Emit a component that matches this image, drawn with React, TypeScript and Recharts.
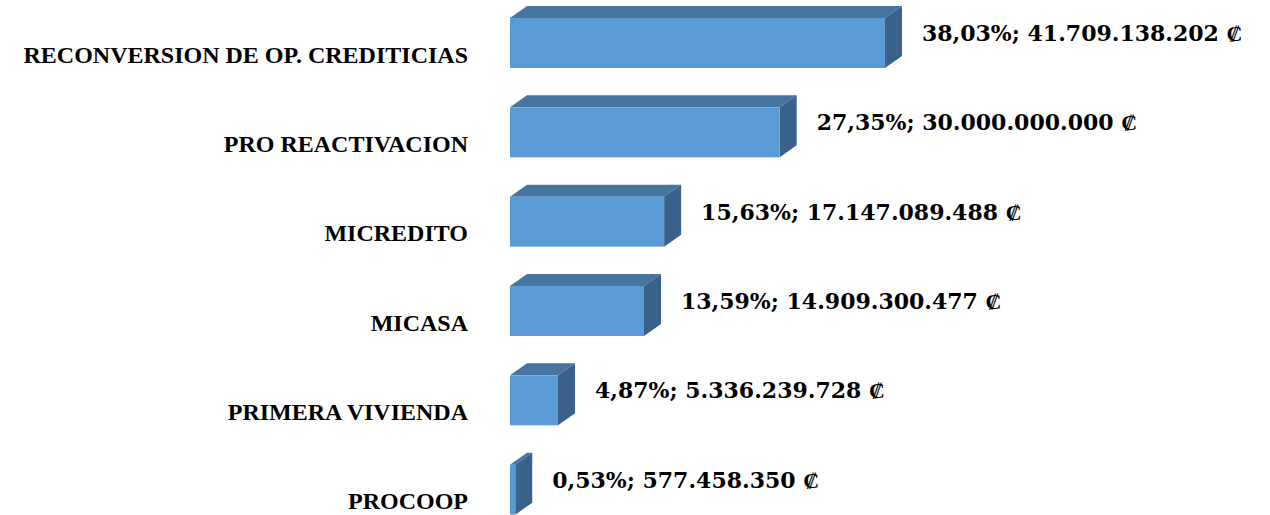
import React from 'react';
import { BarChart, Bar, XAxis, YAxis, LabelList } from 'recharts';

const categories = [
    'RECONVERSION DE OP. CREDITICIAS',
    'PRO REACTIVACION',
    'MICREDITO',
    'MICASA',
    'PRIMERA VIVIENDA',
    'PROCOOP'
];
const percents = [38.03, 27.35, 15.63, 13.59, 4.87, 0.53];
const amounts = [41709138202, 30000000000, 17147089488, 14909300477, 5336239728, 577458350];

const data = categories.map((name, i) => ({ name, pct: percents[i], amount: amounts[i] }));

const CAT_FONT = '"Liberation Serif", serif';
const VAL_FONT = '"DejaVu Serif", serif';
const DX = 17;
const DY = 12;

const fmtAmount = (n: number) => String(n).replace(/\B(?=(\d{3})+(?!\d))/g, '.');
const fmtPct = (n: number) => n.toFixed(2).replace('.', ',') + '%';

// bar drawn as a box: front, top and right side
const Box = (props: any) => {
    const { x, y, width, height } = props;
    return (
        <g>
            <polygon
                points={`${x},${y} ${x + DX},${y - DY} ${x + width + DX},${y - DY} ${x + width},${y}`}
                fill="#4675A2"
            />
            <polygon
                points={`${x + width},${y} ${x + width + DX},${y - DY} ${x + width + DX},${y + height - DY} ${x + width},${y + height}`}
                fill="#3A6189"
            />
            <rect x={x} y={y} width={width} height={height} fill="#5B9BD5" />
        </g>
    );
};

const CatTick = (props: any) => {
    const { x, y, payload } = props;
    return (
        <text x={x} y={y + 12} textAnchor="end" dominantBaseline="central"
            fontFamily={CAT_FONT} fontWeight="bold" fontSize={24} fill="#000">
            {payload.value}
        </text>
    );
};

const ValueLabel = (props: any) => {
    const { x, y, width, height, index } = props;
    return (
        <text x={x + width + DX + 20} y={y + height / 2 - 10} dominantBaseline="central"
            fontFamily={VAL_FONT} fontWeight="bold" fontSize={22} fill="#000">
            {fmtPct(percents[index]) + '; ' + fmtAmount(amounts[index]) + '  \u20A1'}
        </text>
    );
};

export default function App() {
    return (
        <div style={{ position: 'absolute', left: 0, top: 0, width: 1270, height: 515, overflow: 'hidden', background: '#fff' }}>
            <div style={{ position: 'absolute', left: 0, top: -2 }}>
                <BarChart width={1270} height={536} data={data} layout="vertical"
                    margin={{ top: 0, right: 267, bottom: 0, left: 0 }}>
                    <XAxis type="number" domain={[0, 50]} hide />
                    <YAxis type="category" dataKey="name" width={510} axisLine={false}
                        tickLine={false} tickSize={0} tickMargin={42} tick={<CatTick />} />
                    <Bar dataKey="pct" barSize={50} shape={<Box />} isAnimationActive={false}>
                        <LabelList dataKey="pct" content={<ValueLabel />} />
                    </Bar>
                </BarChart>
            </div>
        </div>
    );
}
